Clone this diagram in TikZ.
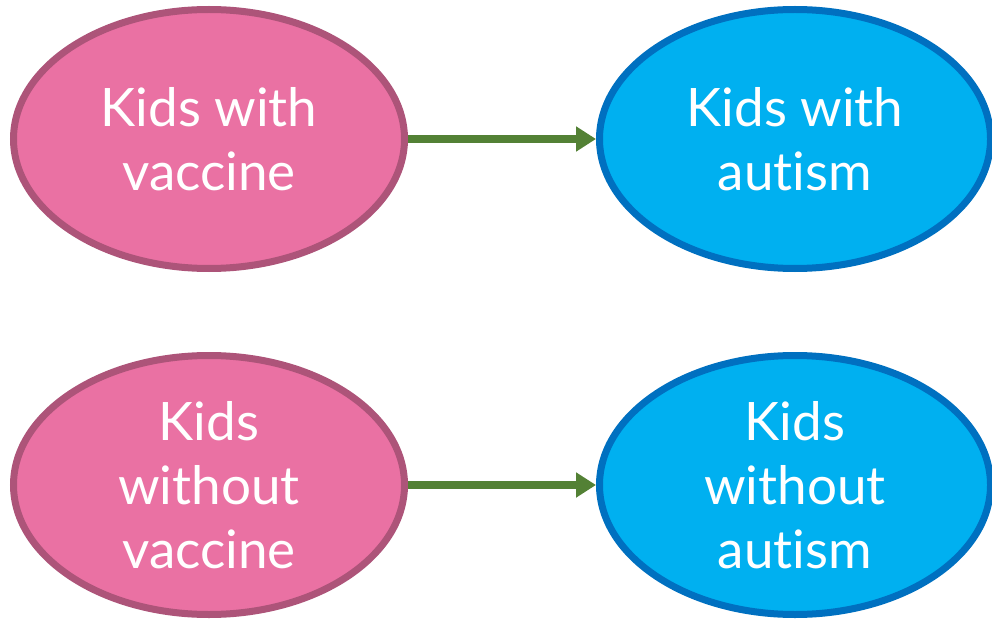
\documentclass[tikz,border=0pt]{standalone}
\usepackage{fontspec}
\setmainfont{Lato}[Ligatures=NoCommon]
\usetikzlibrary{shapes.geometric,arrows.meta}
\definecolor{pinkfill}{HTML}{EA71A3}
\definecolor{pinkline}{HTML}{AD5479}
\definecolor{bluefill}{HTML}{00B0F0}
\definecolor{blueline}{HTML}{0070C0}
\definecolor{arrowgreen}{HTML}{538135}
\tikzset{
  oval/.style={ellipse, line width=7pt, minimum width=391pt, minimum height=259pt,
    inner sep=0pt, text=white, align=center,
    font=\fontsize{53}{64}\selectfont},
  cause/.style={oval, draw=pinkline, fill=pinkfill},
  effect/.style={oval, draw=blueline, fill=bluefill},
  link/.style={draw=arrowgreen, line width=7.5pt,
    -{Triangle[length=20pt,width=24pt]}}
}
\begin{document}
\begin{tikzpicture}[x=1pt,y=-1pt]
  \useasboundingbox (0,0) rectangle (992,620);
  \node[cause]  (vac)    at (209,139) {Kids with\\vaccine};
  \node[effect] (aut)    at (795,139) {Kids with\\autism};
  \node[cause]  (novac)  at (209,485) {Kids\\without\\vaccine};
  \node[effect] (noaut)  at (795,485) {Kids\\without\\autism};
  \draw[link] (vac.east) -- (aut.west);
  \draw[link] (novac.east) -- (noaut.west);
\end{tikzpicture}
\end{document}
